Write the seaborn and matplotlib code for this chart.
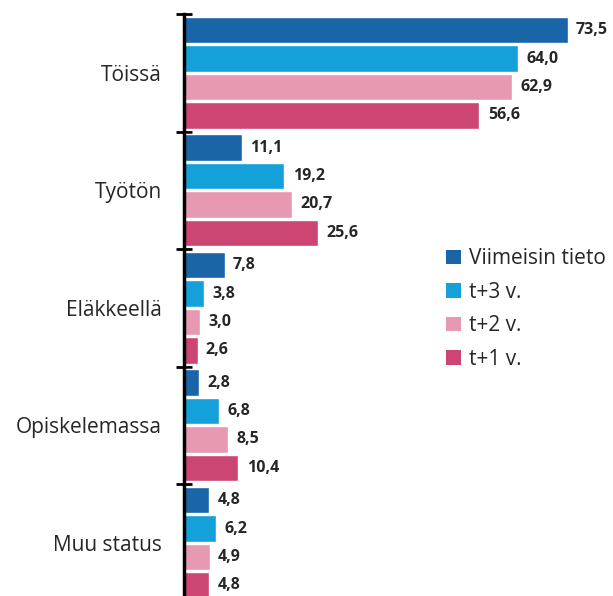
import pandas as pd
import numpy as np
import matplotlib
matplotlib.use('Agg')
import matplotlib.pyplot as plt
import seaborn as sns
from matplotlib.patches import Patch

# ------------------------------------------------------------
# data
# ------------------------------------------------------------
categories = ['Töissä', 'Työtön', 'Eläkkeellä', 'Opiskelemassa', 'Muu status']
series = ['Viimeisin tieto', 't+3 v.', 't+2 v.', 't+1 v.']
viimeisin = [73.5, 11.1, 7.8, 2.8, 4.8]
t3 = [64.0, 19.2, 3.8, 6.8, 6.2]
t2 = [62.9, 20.7, 3.0, 8.5, 4.9]
t1 = [56.6, 25.6, 2.6, 10.4, 4.8]
colors = ['#1A64A8', '#14A0D9', '#E699B0', '#CC4573']

rows = []
for name, vals in zip(series, [viimeisin, t3, t2, t1]):
    for cat, v in zip(categories, vals):
        rows.append({'status': cat, 'sarja': name, 'arvo': v})
df = pd.DataFrame(rows)

# ------------------------------------------------------------
# plot
# ------------------------------------------------------------
sns.set_style('white')
plt.rcParams['font.family'] = ['Open Sans', 'DejaVu Sans']

W, H = 613, 596
fig = plt.figure(figsize=(W / 100, H / 100), dpi=100)
ax = fig.add_axes([184 / W, -5.5 / H, 1 - 184 / W, 587.5 / H])

sns.barplot(data=df, y='status', x='arvo', hue='sarja', order=categories,
            hue_order=series, palette=colors, orient='h', width=0.97,
            gap=0.06, saturation=1, legend=False, ax=ax)

ax.set_xlim(0, 82.2)
ax.set_ylim(4.5, -0.5)

for cont in ax.containers:
    labels = [f"{b.get_width():.1f}".replace('.', ',') for b in cont]
    ax.bar_label(cont, labels=labels, padding=6, fontsize=11.5,
                 fontweight='bold', color='#262626')

for s in ['top', 'right', 'bottom']:
    ax.spines[s].set_visible(False)
ax.spines['left'].set_linewidth(2.5)
ax.spines['left'].set_color('black')

ax.set_xticks([])
ax.set_xlabel('')
ax.set_ylabel('')
ax.set_yticks(range(len(categories)))
ax.set_yticklabels(categories, fontsize=15, color='#262626')
ax.tick_params(axis='y', which='major', left=False, length=0, pad=16)
ax.set_yticks(np.arange(-0.5, len(categories), 1.0), minor=True)
ax.tick_params(axis='y', which='minor', left=True, direction='inout',
               length=12, width=2, color='black')

handles = [Patch(facecolor=c, edgecolor='none') for c in colors]
ax.legend(handles, series, loc='upper left', bbox_to_anchor=(438 / W, 1 - 240 / H),
          bbox_transform=fig.transFigure, frameon=False, fontsize=15,
          handlelength=0.7, handleheight=0.7, handletextpad=0.4,
          labelspacing=0.6, borderaxespad=0, labelcolor='#262626')

fig.savefig('out.png', dpi=100)
